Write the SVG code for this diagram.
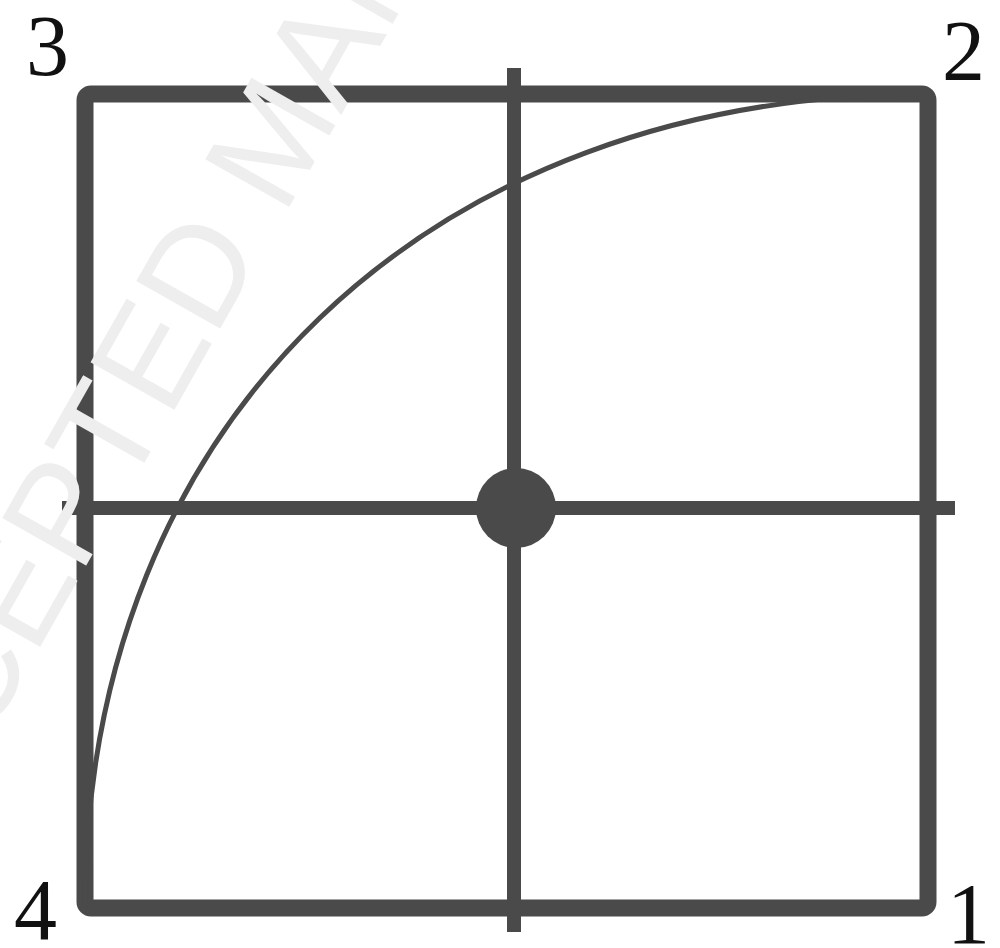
<svg xmlns="http://www.w3.org/2000/svg" width="1000" height="948" viewBox="0 0 1000 948">
<style>
.ln{stroke:#4a4a4a;fill:none;stroke-linecap:butt}
.lbl{font-family:"Liberation Serif","DejaVu Serif",serif;font-size:86px;fill:#111}
.wm{font-family:"Liberation Sans",Arial,sans-serif;font-size:140px;fill:#eeeeee}
</style>
<rect width="1000" height="948" fill="#ffffff"/>
<g id="frame">
<rect class="ln" x="85" y="94" width="843" height="814" rx="6" stroke-width="17"/>
</g>
<g id="connectors">
<line class="ln" x1="514" y1="68" x2="514" y2="932" stroke-width="14"/>
<line class="ln" x1="62" y1="508" x2="955" y2="508" stroke-width="14"/>
<path class="ln" d="M85,908 C85,420 430,94 928,94" stroke-width="5"/>
</g>
<g id="center">
<circle cx="516" cy="508" r="40" fill="#4a4a4a"/>
</g>
<g id="labels">
<text class="lbl" x="26" y="75">3</text>
<text class="lbl" x="942" y="80">2</text>
<text class="lbl" x="14" y="939">4</text>
<text class="lbl" x="947" y="943">1</text>
</g>
<text class="wm" transform="translate(-111,914) rotate(-60.5)">ACCEPTED MANUSCRIPT</text>
</svg>
